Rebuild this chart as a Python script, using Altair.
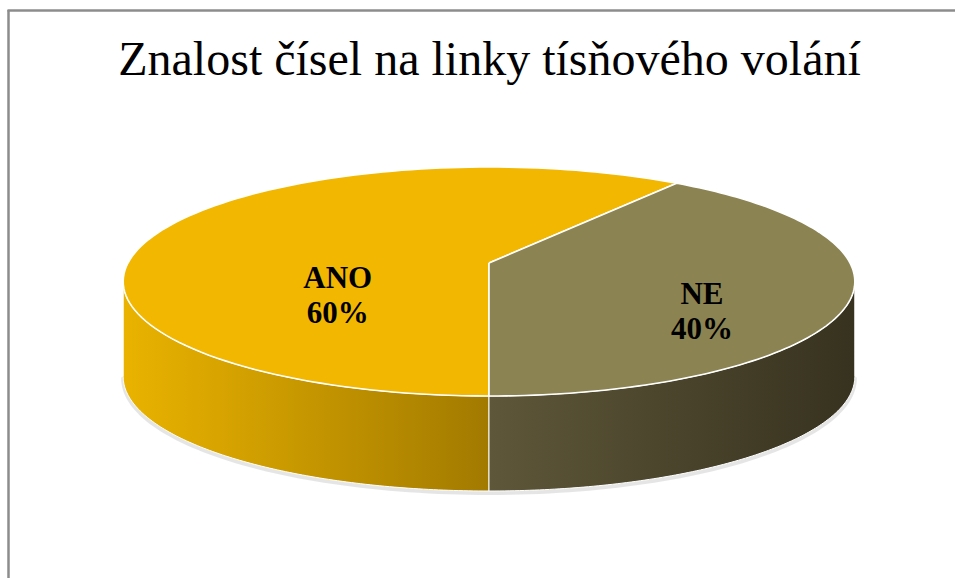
import math
import altair as alt
import pandas as pd

# ---------------- data ----------------
TITLE = "Znalost čísel na linky tísňového volání"
CATEGORIES = ["ANO", "NE"]
VALUES = [60, 40]

# ---------------- style ----------------
TOP_COLORS = ["#F2B700", "#8C8352"]
SIDE_GRADIENTS = [("#EAB300", "#A27A00"), ("#5E5739", "#37321F")]
SERIF = "Liberation Serif, Times New Roman, serif"

W, H = 955, 578
CX, CY = 489, 263               # projected pie centre
AX, BY, K = 361, 111.5, 0.1616  # perspective ellipse parameters
DEPTH = 95
N = 120
START_DEG = 180
LABEL_R = 0.53
LABEL_DX, LABEL_DY = 26, 33
LABEL_VSCALE = 0.43

V1 = math.degrees(math.acos(-K))
V2 = 360 - V1


def rad(a):
    return f"(({a})*PI/180)"


def px(a, r="1"):
    return f"({CX} + {AX}*({r})*sin({rad(a)})/(1 + {K}*({r})*cos({rad(a)})))"


def py(a, r="1"):
    return f"({CY} - {BY}*({r})*cos({rad(a)})/(1 + {K}*({r})*cos({rad(a)})))"


df = pd.DataFrame({"cat": CATEGORIES, "value": VALUES, "idx": list(range(len(CATEGORIES)))})

XS = alt.X("x:Q", scale=alt.Scale(domain=[0, W], nice=False, zero=False), axis=None)
YS = alt.Y("y:Q", scale=alt.Scale(domain=[0, H], reverse=True, nice=False, zero=False), axis=None)

base = (
    alt.Chart(df)
    .transform_window(cum="sum(value)", frame=[None, 0], sort=[alt.SortField("idx")])
    .transform_joinaggregate(total="sum(value)")
    .transform_calculate(
        s=f"{START_DEG} + 360*(datum.cum - datum.value)/datum.total",
        e=f"{START_DEG} + 360*datum.cum/datum.total",
    )
)

# ---- top faces ----
top = (
    base.transform_calculate(i=f"sequence(-1, {N + 2})")
    .transform_flatten(["i"])
    .transform_calculate(
        a=f"datum.s + (datum.e - datum.s)*clamp(datum.i, 0, {N})/{N}",
        inner=f"datum.i < 0 || datum.i > {N}",
    )
    .transform_calculate(
        x=f"datum.inner ? {CX} : {px('datum.a')}",
        y=f"datum.inner ? {CY} : {py('datum.a')}",
    )
    .mark_line(stroke="white", strokeWidth=1.6, strokeJoin="round")
    .encode(
        x=XS,
        y=YS,
        order=alt.Order("i:Q"),
        fill=alt.Fill("cat:N", scale=alt.Scale(domain=CATEGORIES, range=TOP_COLORS), legend=None),
        detail="cat:N",
    )
)

# ---- sides ----
side_base = (
    base.transform_calculate(
        lo1=f"max(datum.s, {V1})", hi1=f"min(datum.e, {V2})",
        lo2=f"max(datum.s, {V1 + 360})", hi2=f"min(datum.e, {V2 + 360})",
    )
    .transform_calculate(
        lo="datum.hi1 > datum.lo1 ? datum.lo1 : datum.lo2",
        hi="datum.hi1 > datum.lo1 ? datum.hi1 : datum.hi2",
    )
    .transform_filter("datum.hi > datum.lo")
    .transform_calculate(i=f"sequence(0, {2 * N + 3})")
    .transform_flatten(["i"])
    .transform_calculate(
        t=f"datum.i <= {N} ? datum.i : (datum.i <= {2 * N + 1} ? {2 * N + 1} - datum.i : 0)",
        bottom=f"datum.i > {N} && datum.i <= {2 * N + 1}",
    )
    .transform_calculate(a=f"datum.lo + (datum.hi - datum.lo)*datum.t/{N}")
    .transform_calculate(
        x=px("datum.a"),
        y=f"{py('datum.a')} + (datum.bottom ? {DEPTH} : 0)",
    )
)

sides = []
for cat, (c0, c1) in zip(CATEGORIES, SIDE_GRADIENTS):
    grad = alt.Gradient(
        gradient="linear",
        stops=[alt.GradientStop(color=c0, offset=0), alt.GradientStop(color=c1, offset=1)],
        x1=0, x2=1, y1=0, y2=0,
    )
    sides.append(
        side_base.transform_filter(alt.datum.cat == cat)
        .mark_line(fill=grad, stroke="white", strokeWidth=1, strokeJoin="round")
        .encode(x=XS, y=YS, order=alt.Order("i:Q"), detail="cat:N")
    )

# ---- soft shadow under the body ----
shadow = (
    alt.Chart(alt.sequence(0, N + 1, as_="i"))
    .transform_calculate(a=f"{V1} + ({V2} - {V1})*datum.i/{N}")
    .transform_calculate(x=px("datum.a"), y=f"{py('datum.a')} + {DEPTH} + 2")
    .mark_line(stroke="#8a8a8a", strokeWidth=4, opacity=0.22, strokeCap="round")
    .encode(x=XS, y=YS, order=alt.Order("i:Q"))
)

# ---- labels ----
labels = (
    base.transform_calculate(mid="(datum.s + datum.e)/2")
    .transform_calculate(
        x=f"{px('datum.mid', LABEL_R)} + {LABEL_DX}",
        y=f"{CY} + ({py('datum.mid', LABEL_R)} - {CY})*{LABEL_VSCALE} + {LABEL_DY}",
        label="datum.cat + '\\n' + datum.value + '%'",
    )
    .mark_text(font=SERIF, fontWeight="bold", fontSize=31, lineBreak="\n",
               lineHeight=35, align="center", baseline="alphabetic", color="black")
    .encode(x=XS, y=YS, text="label:N")
)

# ---- title ----
title = (
    alt.Chart(pd.DataFrame({"t": [TITLE]}))
    .mark_text(font=SERIF, fontSize=48, align="center", baseline="alphabetic", color="black")
    .encode(x=alt.value(489.5), y=alt.value(75), text="t:N")
)

# ---- frame ----
frame_df = pd.DataFrame({"k": [0]})
border_left = alt.Chart(frame_df).mark_rule(color="#8C8C8C", strokeWidth=2.5).encode(
    x=alt.value(8.5), y=alt.value(10), y2=alt.value(H)
)
border_top = alt.Chart(frame_df).mark_rule(color="#8C8C8C", strokeWidth=2.5).encode(
    x=alt.value(7.5), x2=alt.value(W), y=alt.value(10.5)
)

chart = (
    alt.layer(shadow, *sides, top, labels, title, border_left, border_top)
    .properties(width=W, height=H, autosize="none", padding=0, background="white")
    .configure_view(stroke=None)
)

chart.save("out.html", embed_options={"renderer": "svg", "actions": False})
